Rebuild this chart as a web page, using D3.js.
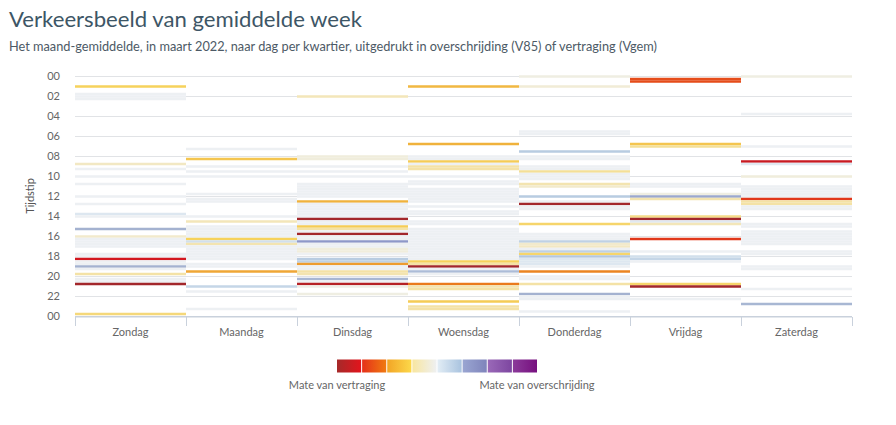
<!DOCTYPE html>
<html>
<head>
<meta charset="utf-8">
<script src="https://cdn.jsdelivr.net/npm/d3@7"></script>
<style>
  body { margin: 0; background: #fff; font-family: Lato, "Open Sans", sans-serif; }
</style>
</head>
<body>
<svg width="896" height="425"></svg>
<script>
    const n = null;

    const days = ["Zondag", "Maandag", "Dinsdag", "Woensdag", "Donderdag", "Vrijdag", "Zaterdag"];
    const hourLabels = ["00", "02", "04", "06", "08", "10", "12", "14", "16", "18", "20", "22", "00"];

    // one value per quarter (96), negative = vertraging, positive = overschrijding, null = no data
    const zondag = [
        n,n,n,n,-1.5,n,n,0,0,0,n,n,n,n,n,n,
        n,n,n,n,n,n,n,n,n,n,n,n,n,n,n,n,
        n,n,n,-0.7,n,0,n,n,0,n,n,0,n,n,n,n,
        0,n,n,0,n,n,n,0.4,0,n,n,n,n,1.5,n,n,
        -0.6,0,0,0,0,n,n,0,0,-3.5,0,0,1.5,0,n,-1,
        n,0,0,-4,n,n,n,n,n,n,n,n,n,n,n,-1.3
    ];
    const maandag = [
        n,n,n,n,n,n,n,n,n,n,n,n,n,n,n,n,
        n,n,n,n,n,n,n,n,n,n,n,n,n,0,n,n,
        n,-1.7,n,n,0,n,0,n,0,n,n,n,n,n,n,0,
        n,0,0,n,n,n,n,n,0,n,-0.8,n,0,0,0,0,
        0,-1.5,0.6,-0.9,0,0,0,0,0,0,n,0,0,n,-2.1,n,
        n,n,n,n,0.8,n,0,n,n,n,n,n,n,0,n,n
    ];
    const dinsdag = [
        n,n,n,n,n,n,n,n,-0.8,n,n,n,n,n,n,n,
        n,n,n,n,n,n,n,n,n,n,n,n,n,n,n,n,
        -0.4,-0.4,n,n,0,n,0,n,0,n,n,0,0,0,0,0,
        0,n,-2,0,0,0,0,0,0,-4,0,0,-1.6,-1,0,-4,
        0,0,2,0,0,-0.4,-0.4,0,n,1,0.9,-2.2,0,0,-1,-0.9,
        n,1.4,0,-3.8,-0.2,n,n,-0.3,n,n,n,n,n,n,n,n
    ];
    const woensdag = [
        n,n,n,n,-1.9,n,n,n,n,n,n,n,n,n,n,n,
        n,n,n,n,n,n,n,n,n,n,n,-2,n,n,n,n,
        0,0,-1.6,0,-1,-1,n,n,0,n,0,0,n,0,0,0,
        0,0,0,n,0,n,0,0,n,n,0,0,n,0,0,0,
        0,0,0,0,0,0,0,0,0,0,-1.5,-1,-4,0,1.3,0,
        n,n,n,-2.5,-0.9,-1,n,n,n,n,-1.6,n,-1,-1,n,n
    ];
    const donderdag = [
        -0.3,n,n,n,-0.5,n,n,n,n,n,n,n,n,n,n,n,
        n,n,n,n,n,n,0,0,n,n,n,n,n,n,1,n,
        0,0,n,n,0,0,-1.1,0,0,0,n,-0.9,-0.6,n,n,n,
        1,n,0,-4,0,0,n,n,n,n,n,-1.4,n,n,n,0,
        0,0,0.9,-0.6,-0.7,0,0.9,-1.4,1.1,0.4,0.4,0.4,0,n,-2.4,n,
        0,0,n,-1,n,n,n,1.5,0,0,n,n,n,n,0,n
    ];
    const vrijdag = [
        n,-2.9,-2.9,n,n,n,n,n,n,n,n,n,n,n,n,n,
        n,n,n,n,n,n,n,n,n,n,n,-1.7,-1.1,n,n,n,
        n,n,n,n,n,n,n,n,n,n,n,0,0,n,n,-0.3,
        1.7,-0.9,n,n,n,n,n,n,-1.2,-4,0.3,-0.8,n,n,n,n,
        n,-3.1,n,n,n,n,0,n,0.6,0.8,0,n,n,n,n,n,
        n,n,n,-1.4,-4,n,n,n,n,0,n,n,n,n,n,n
    ];
    const zaterdag = [
        -0.3,n,n,n,n,n,n,n,n,n,n,n,n,n,n,0,
        n,n,n,n,n,n,n,n,n,n,n,n,0,n,n,n,
        n,n,-3.6,0.3,n,n,n,n,-0.4,n,n,n,0,0,0,0,
        0,-3.1,-1,-1,0,0,n,n,n,n,n,0,0,n,0,0,
        0,0,0,0,n,n,0,0,n,n,n,n,0,0,n,n,
        n,n,n,n,n,0,n,n,n,n,n,1.4,n,n,n,n
    ];
    const values = [zondag, maandag, dinsdag, woensdag, donderdag, vrijdag, zaterdag];

    const colorStops = [-4, -3.5, -3, -2.5, -2, -1.5, -1, -0.5, 0, 0.5, 1, 1.5, 2, 2.5, 3, 4];
    const colorRange = ["#a3272b", "#d3171f", "#e4401a", "#ea7a1c", "#f0b23c", "#f6d25c", "#f4e2a6", "#f1ecd6",
        "#edf0f3", "#d9e5ef", "#b8cce1", "#a4b2d0", "#8e98c8", "#9870b6", "#8647a3", "#78127f"];

    const legendColors = [["#a52a2a", "#e3141c"], ["#e5301a", "#f07a10"], ["#f2a526", "#fcd84a"], ["#f8e6a0", "#eef0f2"],
        ["#e2edf5", "#a9c3df"], ["#9aa6d2", "#7f84bb"], ["#9a69b8", "#7d46a0"], ["#8b3a9a", "#77107f"]];

    const svg = d3.select("svg");

    const x = d3.scaleBand().domain(days).range([75, 852]);
    const y = d3.scaleLinear().domain([0, 96]).range([76.5, 316.5]);
    const yHour = d3.scaleLinear().domain([0, 24]).range([76.5, 316.5]);
    const color = d3.scaleLinear().domain(colorStops).range(colorRange).clamp(true);

    // titles
    svg.append("text")
        .attr("x", 9).attr("y", 27)
        .attr("textLength", 353).attr("lengthAdjust", "spacingAndGlyphs")
        .style("font-size", "22px")
        .attr("fill", "#3d5666")
        .text("Verkeersbeeld van gemiddelde week");

    svg.append("text")
        .attr("x", 9).attr("y", 51)
        .attr("textLength", 648).attr("lengthAdjust", "spacingAndGlyphs")
        .style("font-size", "12.5px")
        .attr("fill", "#4d5a66")
        .text("Het maand-gemiddelde, in maart 2022, naar dag per kwartier, uitgedrukt in overschrijding (V85) of vertraging (Vgem)");

    // gridlines every 2 hours
    svg.append("g")
        .selectAll("line")
        .data(d3.range(0, 24, 2))
        .join("line")
        .attr("x1", 75).attr("x2", 852)
        .attr("y1", d => yHour(d)).attr("y2", d => yHour(d))
        .attr("stroke", "#e1e3e6");

    // cells
    const cells = days.flatMap((day, i) => values[i].map((v, q) => ({day, q, v})))
        .filter(d => d.v !== null);

    svg.append("g")
        .selectAll("rect")
        .data(cells)
        .join("rect")
        .attr("x", d => x(d.day))
        .attr("width", x.bandwidth())
        .attr("y", d => y(d.q - 0.5))
        .attr("height", y(1) - y(0))
        .attr("fill", d => color(d.v));

    // y axis labels
    const yAxis = svg.append("g")
        .attr("transform", "translate(62,0)")
        .call(d3.axisLeft(yHour).tickValues(d3.range(0, 25, 2)).tickSize(0).tickPadding(2)
            .tickFormat((d, i) => hourLabels[i]));
    yAxis.select(".domain").remove();
    yAxis.selectAll("text")
        .attr("dy", "0.28em")
        .style("font-family", "Lato, sans-serif")
        .style("font-size", "11px")
        .attr("fill", "#666");

    svg.append("text")
        .attr("transform", "translate(31,196) rotate(-90)")
        .attr("text-anchor", "middle")
        .attr("dominant-baseline", "middle")
        .style("font-size", "11px")
        .attr("fill", "#555")
        .text("Tijdstip");

    // x axis
    svg.append("line")
        .attr("x1", 75).attr("x2", 852)
        .attr("y1", 316.8).attr("y2", 316.8)
        .attr("stroke", "#c9d1dc").attr("stroke-width", 1.4);

    svg.append("g")
        .selectAll("line")
        .data(days.map(d => x(d)).concat([x.range()[1]]))
        .join("line")
        .attr("x1", d => d + 0.5).attr("x2", d => d + 0.5)
        .attr("y1", 317).attr("y2", 326)
        .attr("stroke", "#c9d1dc");

    const xAxis = svg.append("g")
        .attr("transform", "translate(0,326)")
        .call(d3.axisBottom(x).tickSize(0).tickPadding(2));
    xAxis.select(".domain").remove();
    xAxis.selectAll("text")
        .style("font-family", "Lato, sans-serif")
        .style("font-size", "11px")
        .attr("fill", "#666");

    // legend
    const legend = svg.append("g");
    const defs = svg.append("defs");
    legendColors.forEach((c, i) => {
        const g = defs.append("linearGradient").attr("id", "lg" + i);
        g.append("stop").attr("offset", "0%").attr("stop-color", c[0]);
        g.append("stop").attr("offset", "100%").attr("stop-color", c[1]);
    });
    const lx = d3.scaleBand().domain(d3.range(legendColors.length)).range([337, 537]).paddingInner(0.04);
    legend.selectAll("rect")
        .data(d3.range(legendColors.length))
        .join("rect")
        .attr("x", d => lx(d))
        .attr("width", lx.bandwidth())
        .attr("y", 359.5)
        .attr("height", 13)
        .attr("fill", d => "url(#lg" + d + ")");

    legend.selectAll("text")
        .data(["Mate van vertraging", "Mate van overschrijding"])
        .join("text")
        .attr("x", (d, i) => i === 0 ? 337 : 537)
        .attr("y", 389)
        .attr("text-anchor", "middle")
        .style("font-size", "11px")
        .attr("fill", "#666")
        .text(d => d);
</script>
</body>
</html>
